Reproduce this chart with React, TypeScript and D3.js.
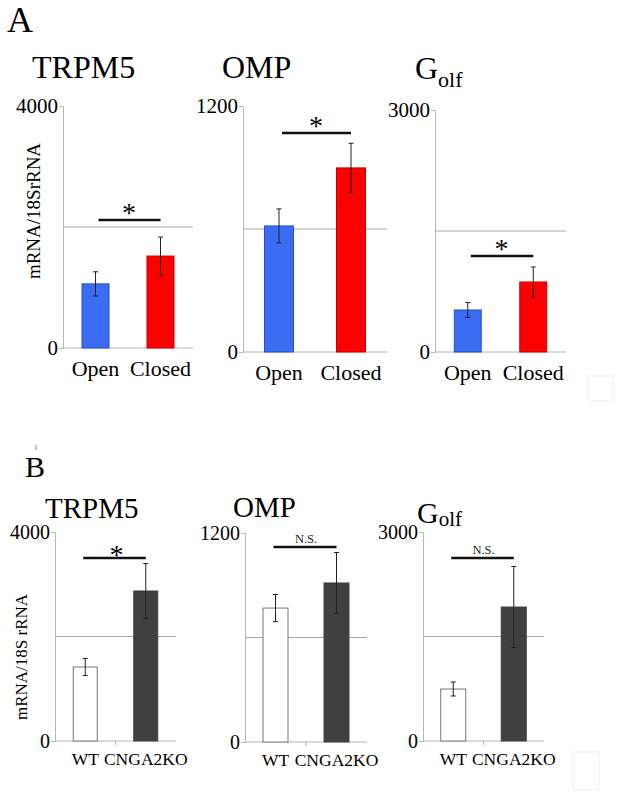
import React, { useEffect, useRef } from "react";
import * as d3 from "d3";

// ---------- data ----------
const genes = ["TRPM5", "OMP", "Golf"];
const groupsA = ["Open", "Closed"];
const groupsB = ["WT", "CNGA2KO"];
const yMax = [4000, 1200, 3000];
const meansA = [[1060, 1520], [615, 898], [521, 868]];
const errsA = [[200, 314], [83, 120], [93, 186]];
const meansB = [[1416, 2871], [769, 913], [746, 1923]];
const errsB = [[163, 526], [78, 175], [100, 581]];
const sigA = ["*", "*", "*"];
const sigB = ["*", "N.S.", "N.S."];
const sigLevelA = [2116, 1068, 1190];
const sigLevelB = [3502, 1120, 2627];

// ---------- layout ----------
const layoutA = [
  { x0: 63, x1: 193, top: 106, bottom: 348, tx: 32, ty: 78, bw: 27 },
  { x0: 243, x1: 387, top: 106, bottom: 352, tx: 222, ty: 78, bw: 29 },
  { x0: 435, x1: 566, top: 110, bottom: 352, tx: 415, ty: 79, bw: 27 },
];
const layoutB = [
  { x0: 55, x1: 176, top: 532, bottom: 741, tx: 45, ty: 518, bw: 24 },
  { x0: 245, x1: 367, top: 533, bottom: 742, tx: 233, ty: 517, bw: 25 },
  { x0: 423, x1: 544, top: 532, bottom: 741, tx: 417, ty: 523, bw: 25 },
];

const FONT = "Times New Roman, Liberation Serif, DejaVu Serif, serif";

function Panel({ idx, lay, groups, means, errs, sig, sigLevel, colors, strokes, big }) {
  const axisRef = useRef(null);
  const y = d3.scaleLinear().domain([0, yMax[idx]]).range([lay.bottom, lay.top]);
  const x = d3.scalePoint().domain(groups).range([lay.x0, lay.x1]).padding(0.5);
  useEffect(() => {
    const g = d3.select(axisRef.current);
    g.selectAll("*").remove();
    g.call(d3.axisLeft(y).tickValues([0, yMax[idx]]).tickSize(4).tickPadding(1).tickFormat(d3.format("d")));
    g.attr("font-family", null).attr("font-size", null);
    g.select(".domain").attr("stroke", "#b5b5b5");
    g.selectAll(".tick line").attr("stroke", "#b5b5b5");
    g.selectAll(".tick text")
      .style("font-family", FONT)
      .attr("font-size", big ? 21 : 20)
      .attr("fill", "#000");
  });
  const cx = groups.map((d) => x(d));
  const ly = y(sigLevel);
  const isStar = sig === "*";
  return (
    <g>
      <line x1={lay.x0} x2={lay.x1} y1={y(yMax[idx] / 2)} y2={y(yMax[idx] / 2)} stroke="#a8a8a8" strokeWidth={1} />
      <line x1={lay.x0} x2={lay.x1} y1={y(0)} y2={y(0)} stroke="#b5b5b5" strokeWidth={1} />
      {!big && (
        <line x1={(lay.x0 + lay.x1) / 2} x2={(lay.x0 + lay.x1) / 2} y1={y(0)} y2={y(0) + 4} stroke="#b5b5b5" />
      )}
      <g ref={axisRef} transform={`translate(${lay.x0},0)`} />
      {groups.map((gname, i) => (
        <g key={gname}>
          <rect
            x={cx[i] - lay.bw / 2}
            width={lay.bw}
            y={y(means[i])}
            height={y(0) - y(means[i])}
            fill={colors[i]}
            stroke={strokes[i]}
            strokeWidth={1}
          />
          <line x1={cx[i]} x2={cx[i]} y1={y(means[i] + errs[i])} y2={y(means[i] - errs[i])} stroke="#222" strokeWidth={1} />
          <line x1={cx[i] - 2.5} x2={cx[i] + 2.5} y1={y(means[i] + errs[i])} y2={y(means[i] + errs[i])} stroke="#222" strokeWidth={1} />
          <line x1={cx[i] - 2.5} x2={cx[i] + 2.5} y1={y(means[i] - errs[i])} y2={y(means[i] - errs[i])} stroke="#222" strokeWidth={1} />
          <text
            x={cx[i]}
            y={big ? lay.bottom + 28 : lay.bottom + 24}
            textAnchor="middle"
            style={{ fontFamily: FONT }}
            fontSize={big ? 22 : 17.5}
          >
            {gname}
          </text>
        </g>
      ))}
      <line x1={cx[0] + (big ? 3 : -2)} x2={cx[1]} y1={ly} y2={ly} stroke="#111" strokeWidth={2.5} />
      {isStar ? (
        <text x={(cx[0] + cx[1]) / 2 + 1} y={ly + (big ? 2 : 6)} textAnchor="middle" style={{ fontFamily: FONT }} fontSize={28}>
          *
        </text>
      ) : (
        <text x={(cx[0] + cx[1]) / 2} y={ly - 4} textAnchor="middle" style={{ fontFamily: FONT }} fontSize={12.5} fill="#222">
          {sig}
        </text>
      )}
      {genes[idx] === "Golf" ? (
        <text x={lay.tx} y={lay.ty} style={{ fontFamily: FONT }} fontSize={big ? 32 : 30}>
          G
          <tspan fontSize={big ? 22 : 21} dy={big ? 8 : 3}>olf</tspan>
        </text>
      ) : (
        <text x={lay.tx} y={lay.ty} style={{ fontFamily: FONT }} fontSize={big ? 32 : 29}>
          {genes[idx]}
        </text>
      )}
    </g>
  );
}

export default function App() {
  return (
    <svg
      width={620}
      height={797}
      style={{ position: "absolute", left: 0, top: 0, background: "#fff", fontFamily: FONT }}
      xmlns="http://www.w3.org/2000/svg"
    >
      <rect width={620} height={797} fill="#fff" />
      <text x={7} y={32} style={{ fontFamily: FONT }} fontSize={36}>A</text>
      <text x={25} y={477} style={{ fontFamily: FONT }} fontSize={30}>B</text>
      <line x1={36} x2={36} y1={445} y2={450} stroke="#888" strokeWidth={1} />
      <text transform="translate(40,211) rotate(-90)" textAnchor="middle" style={{ fontFamily: FONT }} fontSize={19}>
        mRNA/18SrRNA
      </text>
      <text transform="translate(27,657) rotate(-90)" textAnchor="middle" style={{ fontFamily: FONT }} fontSize={17}>
        mRNA/18S rRNA
      </text>
      {layoutA.map((lay, i) => (
        <Panel
          key={"A" + i}
          idx={i}
          lay={lay}
          groups={groupsA}
          means={meansA[i]}
          errs={errsA[i]}
          sig={sigA[i]}
          sigLevel={sigLevelA[i]}
          colors={["#3a6cf4", "#ff0000"]}
          strokes={["#2a50c0", "#c80000"]}
          big={true}
        />
      ))}
      {layoutB.map((lay, i) => (
        <Panel
          key={"B" + i}
          idx={i}
          lay={lay}
          groups={groupsB}
          means={meansB[i]}
          errs={errsB[i]}
          sig={sigB[i]}
          sigLevel={sigLevelB[i]}
          colors={["#ffffff", "#404040"]}
          strokes={["#777777", "#404040"]}
          big={false}
        />
      ))}
      <rect x={588} y={376} width={25} height={25} fill="none" stroke="#f0f0f0" />
      <rect x={573} y={752} width={26} height={38} fill="none" stroke="#f0f0f0" />
    </svg>
  );
}
